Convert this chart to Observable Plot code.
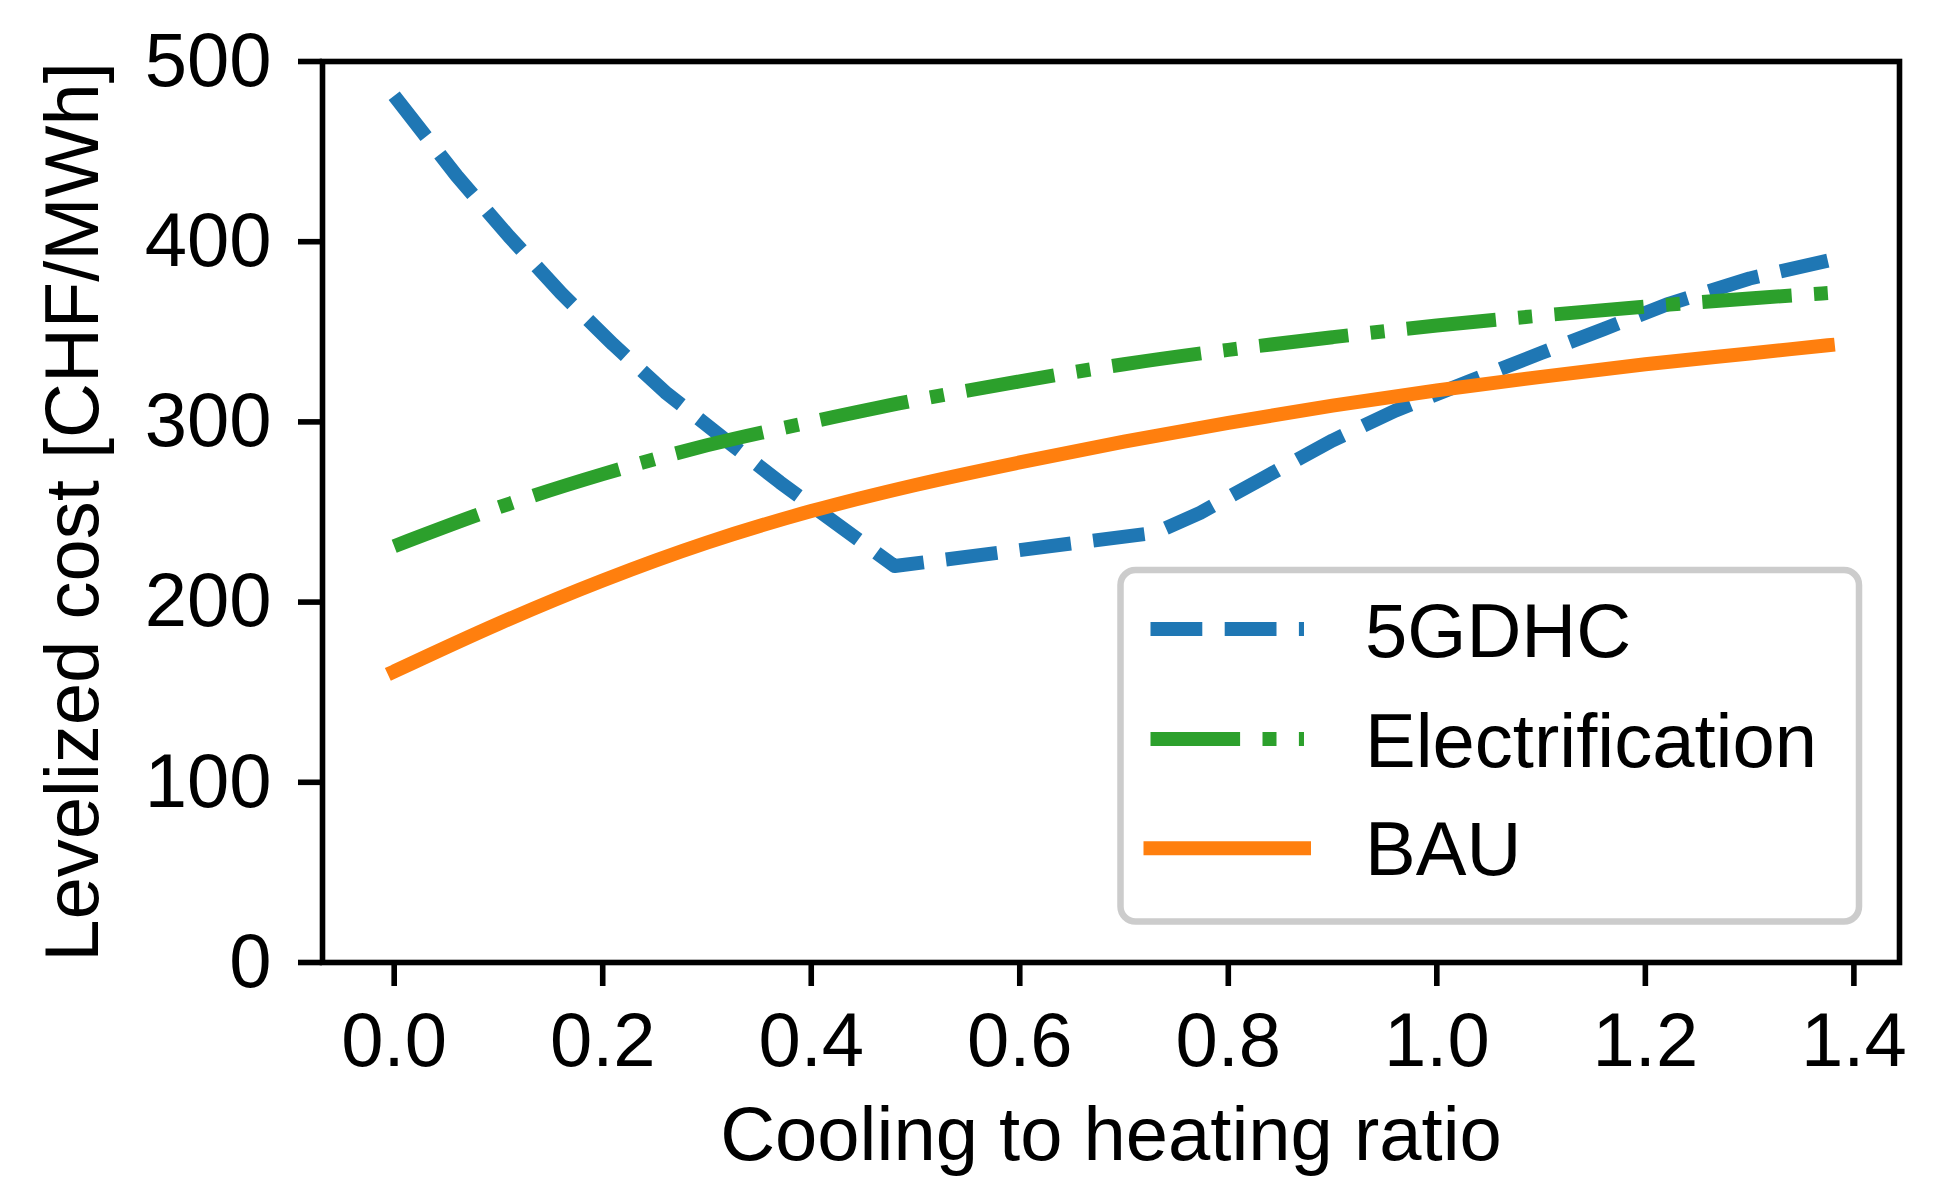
<!DOCTYPE html>
<html>
<head>
<meta charset="utf-8">
<script src="https://cdn.jsdelivr.net/npm/d3@7"></script>
<script src="https://cdn.jsdelivr.net/npm/@observablehq/plot@0.6"></script>
<style>
  html, body { margin: 0; padding: 0; background: #fff; }
  #chart { width: 1956px; height: 1177px; }
  svg { display: block; }
</style>
</head>
<body>
<div id="chart"></div>
<script>
// ---- data ----
const seriesNames = ["5GDHC", "Electrification", "BAU"];
const seriesColors = ["#1f77b4", "#2ca02c", "#ff7f0e"];

const ratio5GDHC = [0, 0.06, 0.11, 0.16, 0.21, 0.26, 0.32, 0.37, 0.43, 0.48, 0.73, 0.773, 0.834, 0.9, 0.96, 1.03, 1.1, 1.16, 1.22, 1.3, 1.375];
const cost5GDHC  = [481, 436.5, 403, 371.5, 343, 316.5, 289, 266.5, 241, 220, 238.5, 249.5, 269, 289.7, 306.2, 322.3, 338.2, 351.5, 365, 379.6, 389.5];

const ratioElec = [0, 0.1, 0.2, 0.3, 0.4, 0.5, 0.6, 0.7, 0.8, 0.9, 1.0, 1.1, 1.2, 1.3, 1.375];
const costElec  = [231, 252.5, 271, 287, 300, 312, 322.5, 332, 340, 347, 353.5, 359, 364, 368.5, 371.5];

const ratioBAU = [0, 0.1, 0.2, 0.3, 0.4, 0.5, 0.6, 0.7, 0.8, 0.9, 1.0, 1.1, 1.2, 1.3, 1.375];
const costBAU  = [161.5, 188, 212, 233, 250.5, 265, 277.5, 289, 299.5, 309, 317.5, 325, 332, 338, 342.5];

const xTicks = [0, 0.2, 0.4, 0.6, 0.8, 1.0, 1.2, 1.4];
const yTicks = [0, 100, 200, 300, 400, 500];
const xLabel = "Cooling to heating ratio";
const yLabel = "Levelized cost [CHF/MWh]";

// ---- layout ----
const W = 1956, H = 1177;
const mL = 322, mR = 57, mT = 61, mB = 215;
const FS = 76;
const LW = 14;
const font = "'Liberation Sans', Arial, Helvetica, sans-serif";

const toRows = (xs, ys) => xs.map((x, i) => ({x, y: ys[i]}));
const d5 = toRows(ratio5GDHC, cost5GDHC);
const dE = toRows(ratioElec, costElec);
const dB = toRows(ratioBAU, costBAU);

const dashes = [`${3.7*LW} ${1.6*LW}`, `${6.4*LW} ${1.6*LW} ${1*LW} ${1.6*LW}`, null];

const plot = Plot.plot({
  width: W, height: H,
  marginLeft: mL, marginRight: mR, marginTop: mT, marginBottom: mB,
  style: {fontFamily: font, background: "white", color: "black"},
  x: {domain: [-0.06875, 1.44375], label: null},
  y: {domain: [0, 500], label: null},
  marks: [
    Plot.line(d5, {x: "x", y: "y", stroke: seriesColors[0], strokeWidth: LW, strokeDasharray: dashes[0], strokeLinecap: "butt", strokeLinejoin: "round", curve: "linear"}),
    Plot.line(dE, {x: "x", y: "y", stroke: seriesColors[1], strokeWidth: LW, strokeDasharray: dashes[1], strokeLinecap: "butt", strokeLinejoin: "round", curve: "monotone-x"}),
    Plot.line(dB, {x: "x", y: "y", stroke: seriesColors[2], strokeWidth: LW, strokeLinecap: "square", strokeLinejoin: "round", curve: "monotone-x"}),
    Plot.frame({stroke: "black", strokeWidth: 5.6}),
    Plot.axisX({ticks: xTicks, tickFormat: d => d.toFixed(1), tickSize: 24, tickPadding: 26, fontSize: FS, strokeWidth: 5.6, label: null}),
    Plot.axisY({ticks: yTicks, tickFormat: d => String(d), tickSize: 24, tickPadding: 27, fontSize: FS, strokeWidth: 5.6, label: null}),
    Plot.text([xLabel], {text: d => d, frameAnchor: "bottom", dy: 197, lineAnchor: "bottom", fontSize: FS}),
    Plot.text([yLabel], {text: d => d, frameAnchor: "left", rotate: -90, dx: -249, lineAnchor: "middle", textAnchor: "middle", fontSize: FS})
  ]
});

// ---- legend (inside the frame, lower right) ----
const svg = d3.select(plot);
const frameRight = W - mR, frameBottom = H - mB;
const boxW = 738.5, boxH = 351.5;
const boxX = frameRight - 40 - boxW, boxY = frameBottom - 40.5 - boxH;
const lg = svg.append("g")
  .attr("font-family", font)
  .attr("font-size", FS)
  .attr("text-anchor", "start");
lg.append("rect")
  .attr("x", boxX).attr("y", boxY).attr("width", boxW).attr("height", boxH)
  .attr("rx", 15).attr("ry", 15)
  .attr("fill", "white").attr("fill-opacity", 0.8)
  .attr("stroke", "#cccccc").attr("stroke-width", 6.5);
const rowY = [59, 169, 278.3];
const textBase = [86.7, 196.7, 305];
seriesNames.forEach((name, i) => {
  const ln = lg.append("line")
    .attr("x1", boxX + 30).attr("x2", boxX + 183.5)
    .attr("y1", boxY + rowY[i]).attr("y2", boxY + rowY[i])
    .attr("stroke", seriesColors[i]).attr("stroke-width", LW)
    .attr("stroke-linecap", dashes[i] ? "butt" : "square");
  if (dashes[i]) ln.attr("stroke-dasharray", dashes[i]);
  lg.append("text")
    .attr("x", boxX + 244.5).attr("y", boxY + textBase[i])
    .attr("text-anchor", "start")
    .attr("fill", "black")
    .text(name);
});

document.getElementById("chart").appendChild(plot);
</script>
</body>
</html>
